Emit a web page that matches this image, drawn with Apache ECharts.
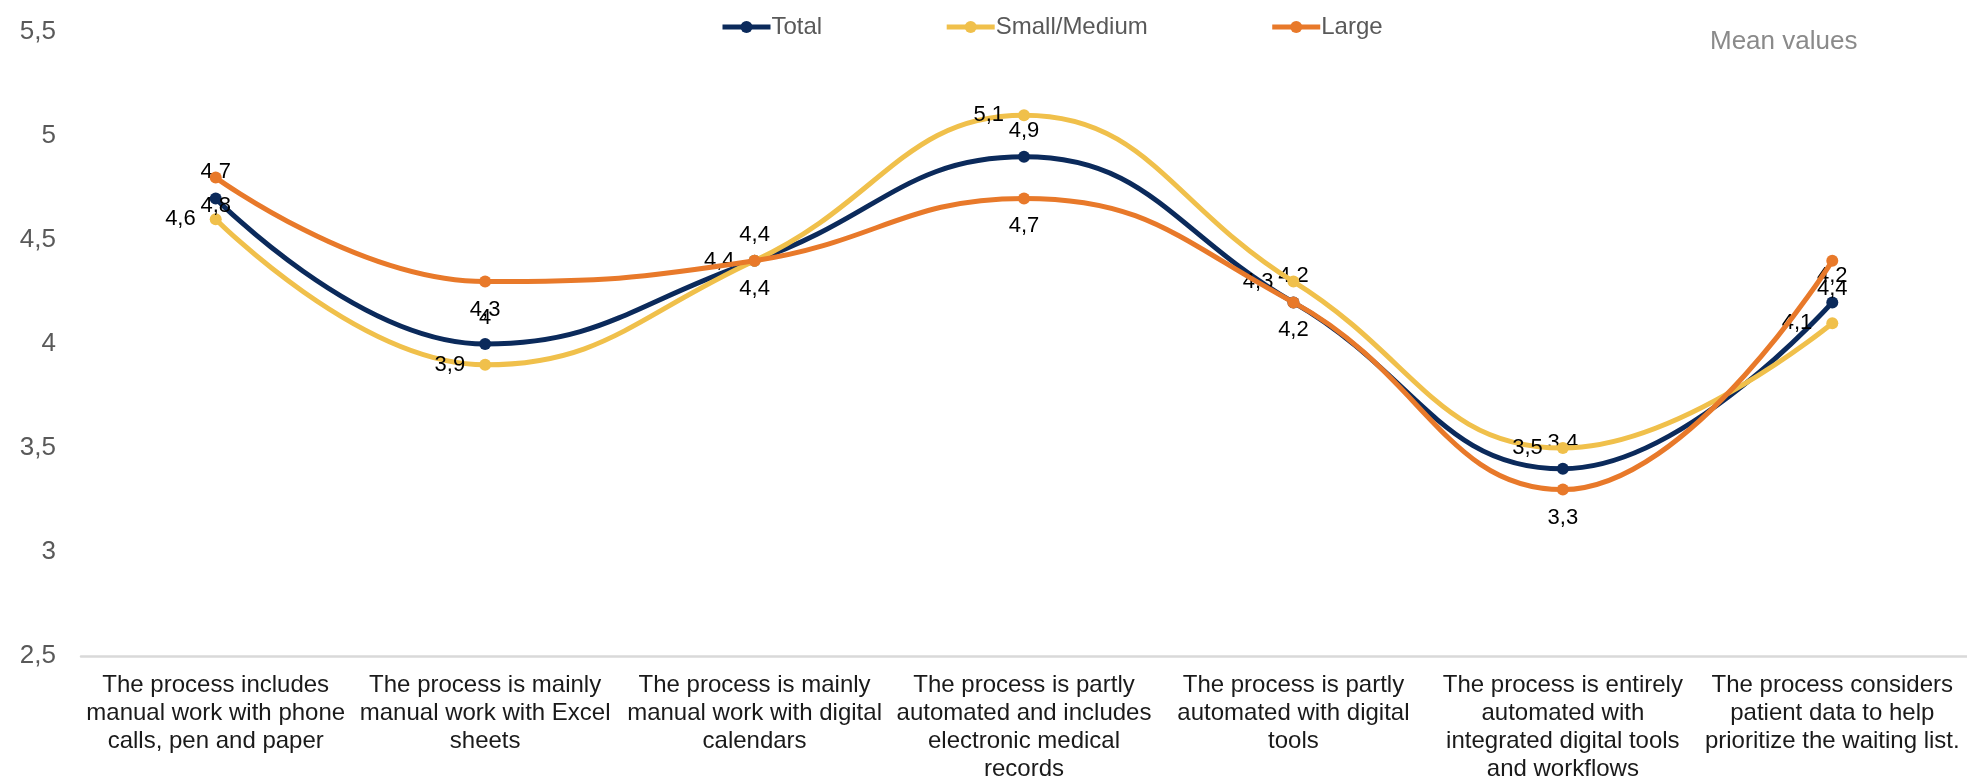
<!DOCTYPE html>
<html>
<head>
<meta charset="utf-8">
<script src="https://cdn.jsdelivr.net/npm/echarts@6/dist/echarts.min.js"></script>
<style>
html,body{margin:0;padding:0;background:#fff;}
#chart{width:1967px;height:783px;}
</style>
</head>
<body>
<div id="chart"></div>
<script>
const categories = [
  "The process includes\nmanual work with phone\ncalls, pen and paper",
  "The process is mainly\nmanual work with Excel\nsheets",
  "The process is mainly\nmanual work with digital\ncalendars",
  "The process is partly\nautomated and includes\nelectronic medical\nrecords",
  "The process is partly\nautomated with digital\ntools",
  "The process is entirely\nautomated with\nintegrated digital tools\nand workflows",
  "The process considers\npatient data to help\nprioritize the waiting list."
];
const seriesNames = ["Total", "Small/Medium", "Large"];
const totalValues = [4.7, 4.0, 4.4, 4.9, 4.2, 3.4, 4.2];
const smallMediumValues = [4.6, 3.9, 4.4, 5.1, 4.3, 3.5, 4.1];
const largeValues = [4.8, 4.3, 4.4, 4.7, 4.2, 3.3, 4.4];
const yTicks = [2.5, 3, 3.5, 4, 4.5, 5, 5.5];
const noteText = "Mean values";

const FONT = "'Liberation Sans', Arial, sans-serif";
const fmt = v => String(v).replace('.', ',');
const colors = ["#0b2a5b", "#f0c04b", "#e8792a"];
const labelPos = ["top", "left", "bottom"];
const labelDist = [9, 14, 11];
const dataSets = [totalValues, smallMediumValues, largeValues];

const chart = echarts.init(document.getElementById('chart'), null, {renderer: 'canvas'});
chart.setOption({
  animation: false,
  backgroundColor: '#ffffff',
  textStyle: {fontFamily: FONT},
  title: {
    text: noteText,
    left: 1705, top: 24,
    textStyle: {fontFamily: FONT, fontSize: 26, fontWeight: 'normal', color: '#8a8a8a'}
  },
  legend: {
    left: 715, top: 10,
    itemWidth: 48, itemHeight: 15, itemGap: 122,
    lineStyle: {width: 5},
    textStyle: {fontFamily: FONT, fontSize: 24, color: '#595959', padding: [0,0,0,-4]},
    data: seriesNames
  },
  grid: {left: 81, right: 0, top: 32, bottom: 126, containLabel: false},
  xAxis: {
    type: 'category',
    data: categories,
    boundaryGap: true,
    axisLine: {show: true, lineStyle: {color: '#d9d9d9', width: 2.5}},
    axisTick: {show: false},
    axisLabel: {
      interval: 0, margin: 15,
      fontFamily: FONT, fontSize: 24, lineHeight: 28, color: '#1a1a1a', align: 'center'
    },
    splitLine: {show: false}
  },
  yAxis: {
    type: 'value',
    min: yTicks[0], max: yTicks[yTicks.length - 1], interval: 0.5,
    axisLine: {show: false},
    axisTick: {show: false},
    splitLine: {show: false},
    axisLabel: {margin: 25, fontFamily: FONT, fontSize: 26, color: '#595959', formatter: v => fmt(v)}
  },
  series: seriesNames.map((name, i) => ({
    name: name,
    type: 'line',
    data: dataSets[i],
    smooth: 0.45,
    symbol: 'circle',
    symbolSize: 12,
    lineStyle: {width: 5, color: colors[i]},
    itemStyle: {color: colors[i]},
    label: {
      show: true,
      position: labelPos[i],
      distance: labelDist[i],
      fontFamily: FONT, fontSize: 22, color: '#000000',
      formatter: p => fmt(p.value)
    },
    z: 2 + i
  }))
});
</script>
</body>
</html>
